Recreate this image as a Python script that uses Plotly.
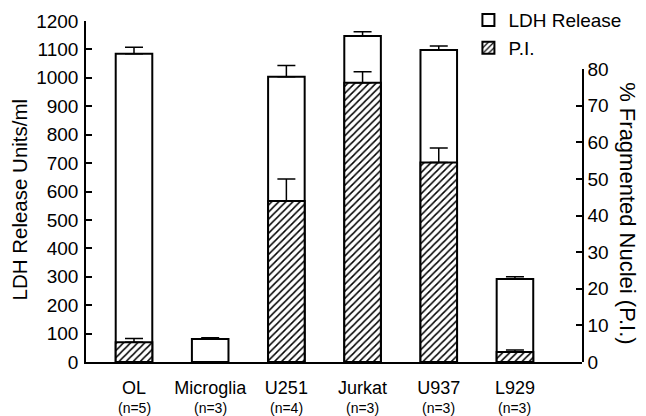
import plotly.graph_objects as go

categories = ["OL", "Microglia", "U251", "Jurkat", "U937", "L929"]
n_labels = ["(n=5)", "(n=3)", "(n=4)", "(n=3)", "(n=3)", "(n=3)"]
ldh_values = [1085, 81, 1004, 1147, 1098, 292]
ldh_errors = [23, 4, 39, 15, 14, 8]
pi_values = [5.4, None, 44, 76.3, 54.5, 2.7]
pi_errors = [1.0, None, 6, 3, 4, 0.6]
left_ticks = list(range(0, 1201, 100))
right_ticks = list(range(0, 81, 10))

FONT = "Liberation Sans, Arial, Helvetica, sans-serif"
xpos = list(range(len(categories)))

fig = go.Figure()
fig.add_trace(go.Bar(
    x=xpos, y=ldh_values, name="LDH Release", width=0.48,
    marker=dict(color="white", line=dict(color="black", width=2)),
    error_y=dict(type="data", array=ldh_errors, arrayminus=[0]*len(ldh_errors), symmetric=False,
                 color="black", thickness=1.5, width=9),
    xaxis="x", yaxis="y",
))
fig.add_trace(go.Bar(
    x=xpos, y=pi_values, name="P.I.", width=0.48,
    marker=dict(color="white", line=dict(color="black", width=2),
                pattern=dict(shape="/", fgcolor="black", bgcolor="white", size=5, solidity=0.3, fillmode="replace")),
    error_y=dict(type="data", array=pi_errors, arrayminus=[0]*len(pi_errors), symmetric=False,
                 color="black", thickness=1.5, width=9),
    xaxis="x", yaxis="y2",
))

annotations = [
    dict(text="LDH Release Units/ml", xref="paper", yref="paper", x=0, y=0.5, xshift=-67, yshift=-8,
         textangle=-90, showarrow=False, font=dict(size=20.5), xanchor="center", yanchor="middle"),
    dict(text="% Fragmented Nuclei (P.I.)", xref="paper", yref="paper", x=1.093, y=0.436,
         textangle=90, showarrow=False, font=dict(size=22), xanchor="center", yanchor="middle"),
]
for xi, nl in zip(xpos, n_labels):
    annotations.append(dict(text=nl, xref="x", yref="paper", x=xi, y=0, yshift=-46, showarrow=False,
                            font=dict(size=14), xanchor="center", yanchor="middle"))

fig.update_layout(
    width=646, height=416,
    margin=dict(l=86, r=64, t=21, b=54, autoexpand=False),
    paper_bgcolor="white", plot_bgcolor="rgba(0,0,0,0)",
    font=dict(family=FONT, size=19, color="black"),
    barmode="overlay",
    showlegend=True,
    legend=dict(x=0.771, y=1.058, xanchor="left", yanchor="top",
                bgcolor="rgba(0,0,0,0)", font=dict(size=19), traceorder="normal", itemsizing="constant"),
    xaxis=dict(range=[-0.63, 5.88], tickmode="array", tickvals=xpos, ticktext=categories,
               showline=True, linecolor="black", linewidth=1.5, ticks="", showgrid=False,
               zeroline=False, tickfont=dict(size=18), automargin=False, anchor="y", ticklabelstandoff=9),
    yaxis=dict(range=[0, 1200], tickvals=left_ticks, showline=True, linecolor="black", linewidth=1.5,
               ticks="inside", ticklen=6, tickwidth=1.5, tickcolor="black", showgrid=False, zeroline=False,
               tickfont=dict(size=19), automargin=False, ticklabelstandoff=2),
    yaxis2=dict(range=[0, 80], domain=[0, 0.8585], tickvals=right_ticks, side="right", anchor="x",
                showline=True, linecolor="black", linewidth=1.5, ticks="inside", ticklen=6, tickwidth=1.5,
                tickcolor="black", showgrid=False, zeroline=False, tickfont=dict(size=19), automargin=False),
    annotations=annotations,
)

fig.write_html("out.html", config={"displayModeBar": False},
               post_script="document.body.style.margin='0px';")
